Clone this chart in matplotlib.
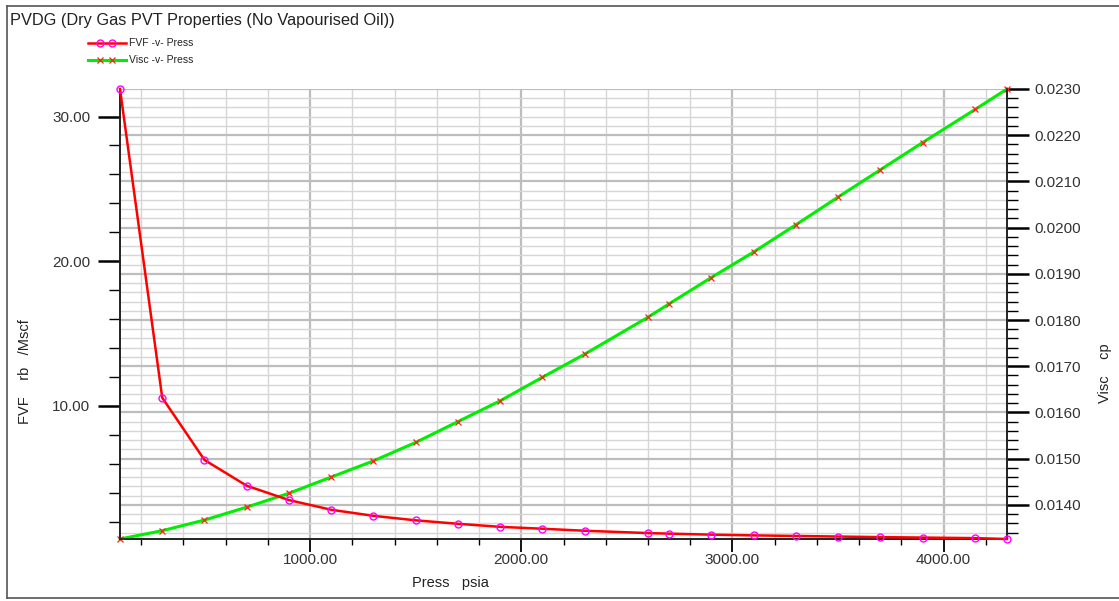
import matplotlib
matplotlib.use("Agg")
import matplotlib.pyplot as plt
from matplotlib.ticker import MultipleLocator, FormatStrFormatter
from matplotlib.lines import Line2D

plt.rcParams['font.family'] = ['Liberation Sans', 'DejaVu Sans']

# PVDG table
pressure = [100, 300, 500, 700, 900, 1100, 1300, 1500, 1700, 1900, 2100,
            2300, 2600, 2700, 2900, 3100, 3300, 3500, 3700, 3900, 4150, 4300]
fvf = [31.9, 10.57, 6.27, 4.49, 3.50, 2.83, 2.41, 2.10, 1.86, 1.65, 1.52,
       1.38, 1.22, 1.18, 1.11, 1.06, 1.02, 0.98, 0.94, 0.91, 0.87, 0.81]
visc = [0.01326, 0.01344, 0.01367, 0.01395, 0.01425, 0.01460, 0.01495, 0.01535,
        0.01580, 0.01625, 0.01676, 0.01726, 0.01806, 0.01835, 0.01892, 0.01947,
        0.02006, 0.02066, 0.02125, 0.02184, 0.02256, 0.02300]

title = "PVDG (Dry Gas PVT Properties (No Vapourised Oil))"
series_names = ['FVF -v- Press', 'Visc -v- Press']

W, H = 1119, 601
fig = plt.figure(figsize=(W / 100, H / 100), dpi=100)

# plot box in pixels: x 120..1007, y 89..539
ax = fig.add_axes([120 / W, 1 - 539 / H, 887 / W, 450 / H])
ax2 = ax.twinx()

# visc on the bottom axes (owns the grid), ticks on the right
ax.yaxis.tick_right()
ax.yaxis.set_label_position('right')
ax2.yaxis.tick_left()
ax2.yaxis.set_label_position('left')

fvf_style = dict(color='#ff0000', lw=1.8, marker='o', ms=5, mfc='none',
                 mec='#ff00ff', mew=1.0)
visc_style = dict(color='#00ee00', lw=2.2, marker='x', ms=5, mec='#ff2020',
                  mew=0.9)

ax.plot(pressure, visc, clip_on=False, zorder=3, **visc_style)
ax2.plot(pressure, fvf, clip_on=False, zorder=3, **fvf_style)

ax.set_xlim(min(pressure), max(pressure))
ax.set_ylim(min(visc), max(visc))
ax2.set_ylim(min(fvf), max(fvf))

ax.xaxis.set_major_locator(MultipleLocator(1000))
ax.xaxis.set_minor_locator(MultipleLocator(200))
ax.xaxis.set_major_formatter(FormatStrFormatter('%.2f'))
ax.yaxis.set_major_locator(MultipleLocator(0.001))
ax.yaxis.set_minor_locator(MultipleLocator(0.0002))
ax.yaxis.set_major_formatter(FormatStrFormatter('%.4f'))
ax2.yaxis.set_major_locator(MultipleLocator(10))
ax2.yaxis.set_minor_locator(MultipleLocator(2))
ax2.yaxis.set_major_formatter(FormatStrFormatter('%.2f'))

ax.set_axisbelow(True)
ax.grid(which='major', color='#bdbdbd', lw=1.6)
ax.grid(which='minor', color='#d6d6d6', lw=1.0)

ax.tick_params(axis='x', which='major', direction='out', length=9, width=1.3,
               pad=1, labelsize=11)
ax.tick_params(axis='x', which='minor', direction='out', length=4.5, width=1.0)
ax.tick_params(axis='y', which='major', direction='out', length=15.5, width=1.8,
               pad=4, labelsize=11)
ax.tick_params(axis='y', which='minor', direction='out', length=8, width=1.0)
ax2.tick_params(axis='y', which='major', direction='out', length=15.5, width=1.8,
                pad=6, labelsize=11)
ax2.tick_params(axis='y', which='minor', direction='out', length=8, width=1.0)

for a in (ax, ax2):
    a.spines['top'].set_visible(False)
    for s in ('left', 'right', 'bottom'):
        a.spines[s].set_linewidth(1.2)
        a.spines[s].set_color('#222222')

for t in ax.get_xticklabels() + ax.get_yticklabels() + ax2.get_yticklabels():
    t.set_color('#333333')

# axis titles
fig.text(450 / W, 1 - 583 / H, "Press   psia", ha='center', va='center',
         fontsize=10.5, color='#222222')
fig.text(25 / W, 1 - 372 / H, "FVF    rb   /Mscf", ha='center', va='center',
         rotation=90, fontsize=10.5, color='#222222')
fig.text(1105 / W, 1 - 373 / H, "Visc    cp", ha='center', va='center',
         rotation=90, fontsize=10.5, color='#222222')

fig.text(10 / W, 1 - 20 / H, title, ha='left', va='center', fontsize=11.8,
         color='#222222')

# legend drawn by hand: full-length line with two markers in the middle
for name, style, ypx in [(series_names[0], fvf_style, 43),
                         (series_names[1], visc_style, 60)]:
    yf = 1 - ypx / H
    line_kw = {k: v for k, v in style.items() if k in ('color', 'lw')}
    mark_kw = {k: v for k, v in style.items() if k not in ('color', 'lw')}
    fig.add_artist(Line2D([88 / W, 126 / W], [yf, yf],
                          transform=fig.transFigure, **line_kw))
    fig.add_artist(Line2D([100 / W, 112 / W], [yf, yf], ls='none',
                          transform=fig.transFigure, **mark_kw))
    fig.text(129 / W, yf, name, ha='left', va='center', fontsize=7.5,
             color='#222222')

# outer frame (top, left, bottom)
frame_kw = dict(color='#555555', lw=1.2, transform=fig.transFigure)
fig.add_artist(Line2D([7 / W, 1], [1 - 6 / H, 1 - 6 / H], **frame_kw))
fig.add_artist(Line2D([7 / W, 7 / W], [1 - 6 / H, 1 - 598 / H], **frame_kw))
fig.add_artist(Line2D([7 / W, 1], [1 - 598 / H, 1 - 598 / H], **frame_kw))

fig.savefig('out.png', dpi=100)
